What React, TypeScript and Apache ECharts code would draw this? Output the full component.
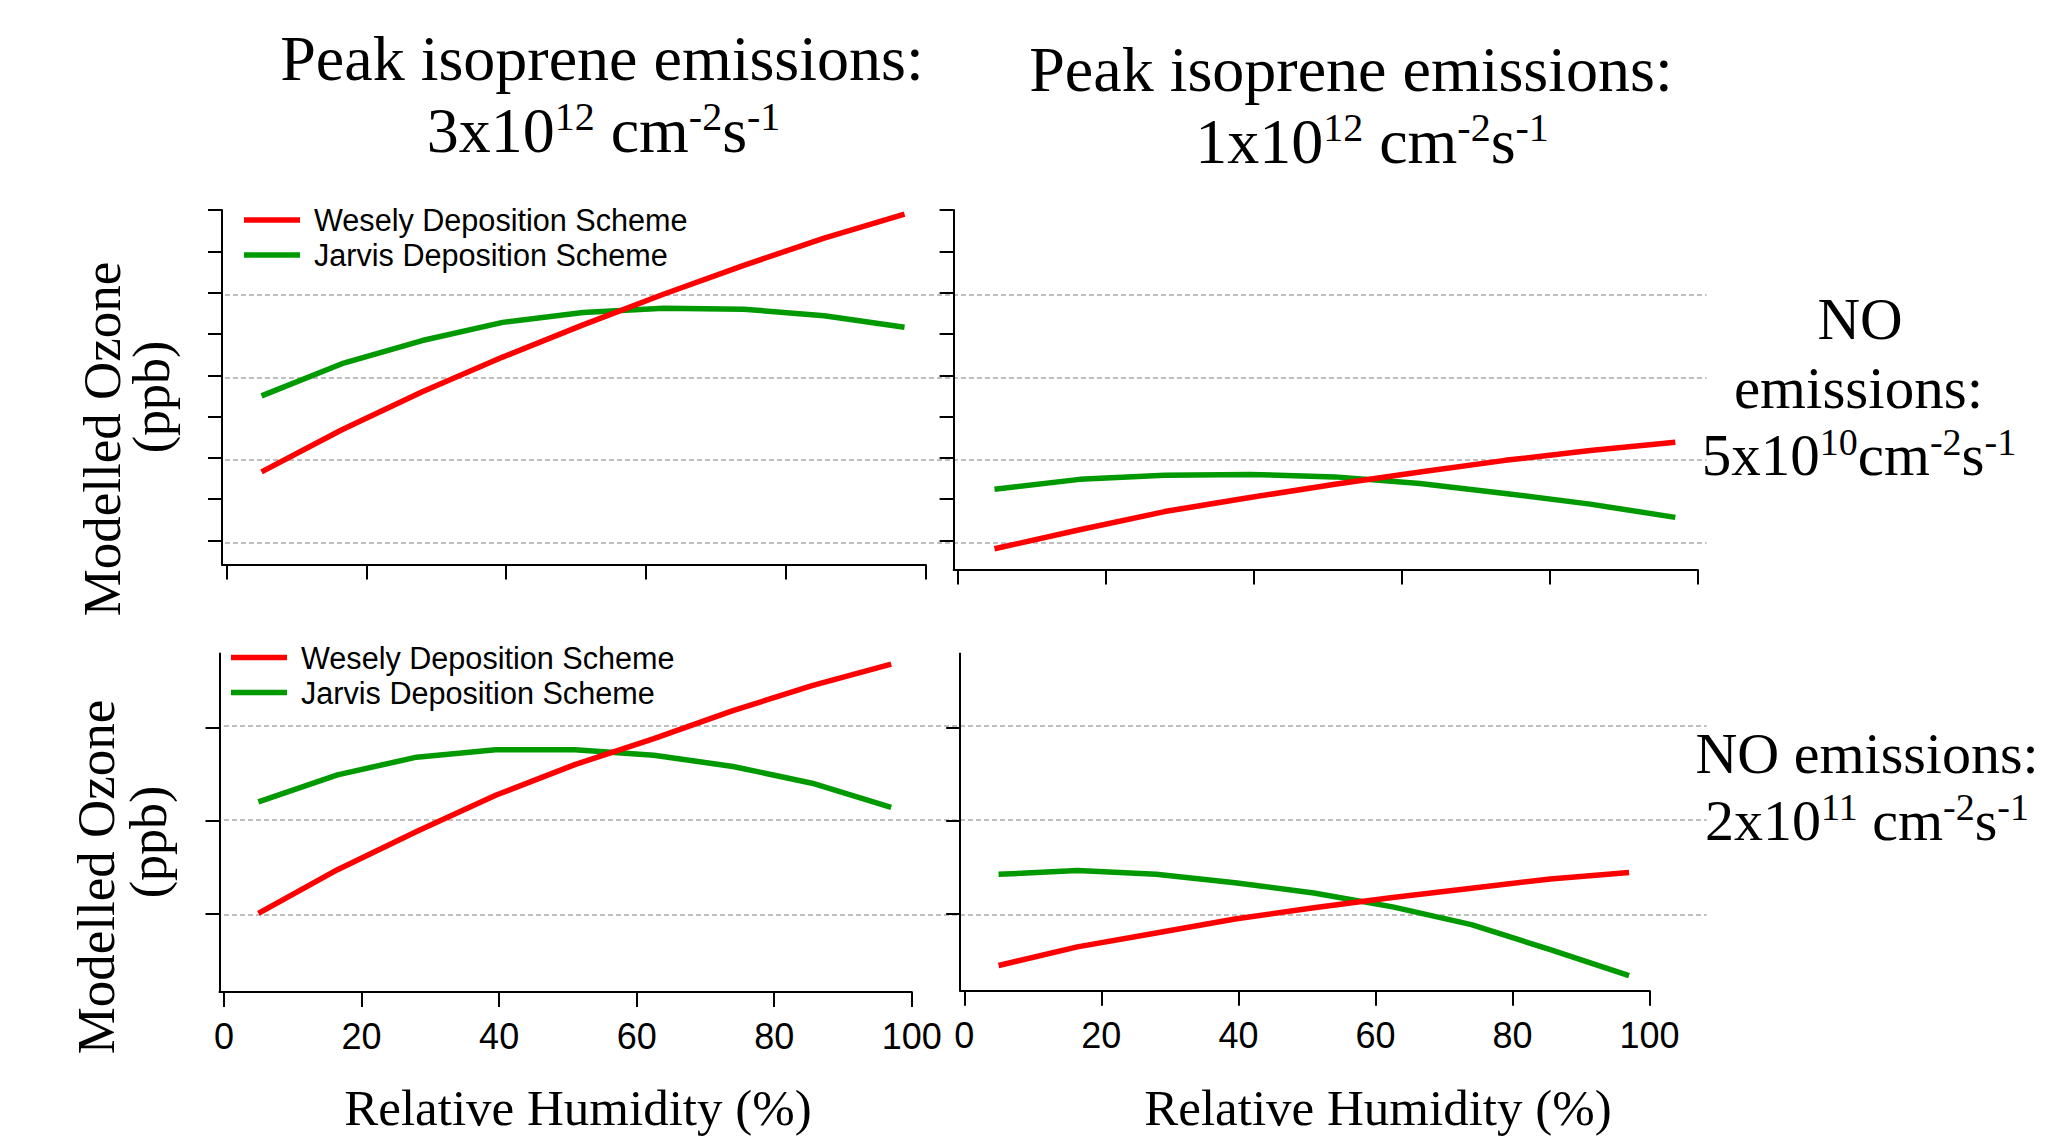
import React, { useEffect, useRef } from 'react';
import * as echarts from 'echarts';

// ---------------- data ----------------
const humidity = [5, 16.5, 28, 39.5, 51, 62.5, 74, 85.5, 97];

// Peak isoprene 3e12, NO 5e10 (top-left)
const weselyHighIsopLowNO = [38.3, 43.4, 48.0, 52.2, 56.1, 59.8, 63.3, 66.6, 69.5];
const jarvisHighIsopLowNO = [47.5, 51.4, 54.2, 56.4, 57.6, 58.1, 58.0, 57.2, 55.8];
// Peak isoprene 1e12, NO 5e10 (top-right)
const weselyLowIsopLowNO = [29.0, 31.3, 33.5, 35.2, 36.8, 38.3, 39.7, 40.9, 41.9];
const jarvisLowIsopLowNO = [36.2, 37.4, 37.9, 38.0, 37.7, 36.9, 35.7, 34.4, 32.8];
// Peak isoprene 3e12, NO 2e11 (bottom-left)
const weselyHighIsopHighNO = [30.0, 34.7, 38.8, 42.7, 46.0, 48.8, 51.8, 54.5, 56.8];
const jarvisHighIsopHighNO = [42.0, 44.9, 46.8, 47.6, 47.6, 47.0, 45.8, 44.0, 41.4];
// Peak isoprene 1e12, NO 2e11 (bottom-right)
const weselyLowIsopHighNO = [24.4, 26.4, 27.9, 29.4, 30.6, 31.7, 32.7, 33.7, 34.4];
const jarvisLowIsopHighNO = [34.2, 34.6, 34.2, 33.3, 32.2, 30.7, 28.8, 26.1, 23.3];

const xRange = [0, 100];
const xTickStep = 20;
const topRowY = [30, 70];
const bottomRowY = [30, 50];
const yTickStep = 10;

const WESELY = 'Wesely Deposition Scheme';
const JARVIS = 'Jarvis Deposition Scheme';

const titleLine1 = 'Peak isoprene emissions:';
const titleLeft2 = '{m|3x10}{s|12}{m| cm}{s|-2}{m|s}{s|-1}';
const titleRight2 = '{m|1x10}{s|12}{m| cm}{s|-2}{m|s}{s|-1}';
const rowTopLines = ['NO', 'emissions:'];
const rowTop3 = '{m|5x10}{s|10}{m|cm}{s|-2}{m|s}{s|-1}';
const rowBottom1 = 'NO emissions:';
const rowBottom2 = '{m|2x10}{s|11}{m| cm}{s|-2}{m|s}{s|-1}';
const yTitle1 = 'Modelled Ozone';
const yTitle2 = '(ppb)';
const xTitle = 'Relative Humidity (%)';

// ---------------- styling / layout ----------------
const SANS = "'Liberation Sans', Arial, Helvetica, sans-serif";
const SERIF = "'Liberation Serif', 'Times New Roman', Times, serif";
const RED = '#ff0000';
const GREEN = '#009900';
const BLACK = '#000000';

const panels = [
  {
    data: { left: 226.6, top: 210, width: 698.9, height: 330.5 },
    frame: { left: 222, top: 210, width: 703.5, height: 354.5 },
    xOffset: 24, yOffset: 4.6, y: topRowY, minor: true, labels: false,
    wesely: weselyHighIsopLowNO, jarvis: jarvisHighIsopLowNO,
  },
  {
    data: { left: 957.5, top: 210, width: 740, height: 330.5 },
    frame: { left: 953.6, top: 210, width: 743.9, height: 359.5 },
    xOffset: 29, yOffset: 3.9, y: topRowY, minor: true, labels: false,
    wesely: weselyLowIsopLowNO, jarvis: jarvisLowIsopLowNO,
  },
  {
    data: { left: 224, top: 727.4, width: 687.8, height: 186 },
    frame: { left: 219.5, top: 653.4, width: 692.3, height: 338.5 },
    xOffset: 78.5, yOffset: 4.5, y: bottomRowY, minor: false, labels: true,
    wesely: weselyHighIsopHighNO, jarvis: jarvisHighIsopHighNO,
  },
  {
    data: { left: 964.3, top: 727.4, width: 685.3, height: 186 },
    frame: { left: 960.2, top: 653.4, width: 689.4, height: 337.4 },
    xOffset: 77.4, yOffset: 4.1, y: bottomRowY, minor: false, labels: true,
    wesely: weselyLowIsopHighNO, jarvis: jarvisLowIsopHighNO,
  },
];

const gridlineRows = [
  { grid: { left: 225, top: 212, width: 1481.6, height: 330.5 }, y: topRowY, showMax: false },
  { grid: { left: 224, top: 725.5, width: 1482.6, height: 189 }, y: bottomRowY, showMax: true },
];

function richStyle(main: number, sup: number, lh: number, supH: number) {
  return {
    m: { fontSize: main, fontFamily: SERIF, lineHeight: lh, fill: BLACK },
    s: { fontSize: sup, fontFamily: SERIF, lineHeight: supH, height: supH, verticalAlign: 'top', fill: BLACK },
  };
}

function buildOption() {
  const tickLine = { color: BLACK, width: 2 };
  const grid: any[] = [];
  const xAxis: any[] = [];
  const yAxis: any[] = [];
  const series: any[] = [];

  panels.forEach((p, i) => {
    grid.push({ ...p.data });
    xAxis.push({
      type: 'value', gridIndex: i, min: xRange[0], max: xRange[1], interval: xTickStep,
      offset: p.xOffset,
      axisLine: { show: false, onZero: false },
      axisTick: { show: true, length: 15, lineStyle: tickLine },
      axisLabel: { show: p.labels, fontSize: 36, fontFamily: SANS, color: BLACK, margin: 27 },
      splitLine: { show: false },
    });
    yAxis.push({
      type: 'value', gridIndex: i, min: p.y[0], max: p.y[1], interval: yTickStep,
      offset: p.yOffset,
      axisLine: { show: false, onZero: false },
      axisTick: { show: true, length: 14, lineStyle: tickLine },
      minorTick: { show: p.minor, splitNumber: 2, length: 14, lineStyle: tickLine },
      axisLabel: { show: false },
      splitLine: { show: false },
      minorSplitLine: { show: false },
    });
    series.push({
      type: 'line', name: JARVIS, xAxisIndex: i, yAxisIndex: i, color: GREEN,
      data: humidity.map((h, k) => [h, p.jarvis[k]]),
      symbol: 'none', clip: false, smooth: false,
      lineStyle: { color: GREEN, width: 5.5 },
    });
    series.push({
      type: 'line', name: WESELY, xAxisIndex: i, yAxisIndex: i, color: RED,
      data: humidity.map((h, k) => [h, p.wesely[k]]),
      symbol: 'none', clip: false, smooth: false,
      lineStyle: { color: RED, width: 5.5 },
    });
  });

  // frames (L-shaped axis lines)
  panels.forEach((p, i) => {
    const gi = panels.length + i;
    grid.push({ ...p.frame });
    xAxis.push({
      type: 'value', gridIndex: gi, min: 0, max: 1,
      axisLine: { show: true, onZero: false, lineStyle: { color: BLACK, width: 2 } },
      axisTick: { show: false }, axisLabel: { show: false }, splitLine: { show: false },
    });
    yAxis.push({
      type: 'value', gridIndex: gi, min: 0, max: 1,
      axisLine: { show: true, onZero: false, lineStyle: { color: BLACK, width: 2 } },
      axisTick: { show: false }, axisLabel: { show: false }, splitLine: { show: false },
    });
  });

  // dotted reference lines spanning both panels of a row
  gridlineRows.forEach((r, j) => {
    const gi = panels.length * 2 + j;
    grid.push({ ...r.grid });
    xAxis.push({
      type: 'value', gridIndex: gi, min: 0, max: 1,
      axisLine: { show: false }, axisTick: { show: false }, axisLabel: { show: false }, splitLine: { show: false },
    });
    yAxis.push({
      type: 'value', gridIndex: gi, min: r.y[0], max: r.y[1], interval: yTickStep,
      axisLine: { show: false }, axisTick: { show: false }, axisLabel: { show: false },
      splitLine: {
        show: true, showMinLine: true, showMaxLine: r.showMax,
        lineStyle: { color: '#ababab', width: 1.7, type: [5, 3] },
      },
    });
  });

  const legendBase = {
    orient: 'vertical', padding: 0, itemGap: 4, itemWidth: 56, itemHeight: 5.5,
    icon: 'rect', selectedMode: false, data: [WESELY, JARVIS],
    itemStyle: { borderWidth: 0 },
    textStyle: { fontSize: 30.6, fontFamily: SANS, color: BLACK, padding: [0, 0, 0, 9] },
  };

  const plain = (text: string, x: number, y: number, size: number, rotation = 0) => ({
    type: 'text', x, y, rotation,
    style: { text, fontSize: size, fontFamily: SERIF, fill: BLACK, align: 'center', verticalAlign: 'middle' },
  });
  const rich = (text: string, x: number, y: number, st: any) => ({
    type: 'text', x, y,
    style: { text, rich: st, fill: BLACK, align: 'center', verticalAlign: 'middle', fontFamily: SERIF },
  });

  const graphic = [
    plain(titleLine1, 602, 58.8, 64),
    rich(titleLeft2, 603.5, 130.7, richStyle(64, 40, 72, 44)),
    plain(titleLine1, 1351, 69.1, 64),
    rich(titleRight2, 1372, 141, richStyle(64, 40, 72, 44)),
    plain(rowTopLines[0], 1860, 319, 59),
    plain(rowTopLines[1], 1858.5, 387.7, 59),
    rich(rowTop3, 1859, 454.7, richStyle(59, 38, 66, 40)),
    plain(rowBottom1, 1867, 753.4, 58),
    rich(rowBottom2, 1867, 820.4, richStyle(58, 38, 66, 40)),
    plain(yTitle1, 102, 439, 53, Math.PI / 2),
    plain(yTitle2, 151, 397, 52, Math.PI / 2),
    plain(yTitle1, 96, 877, 53, Math.PI / 2),
    plain(yTitle2, 148, 842, 52, Math.PI / 2),
    plain(xTitle, 578, 1107.8, 51),
    plain(xTitle, 1378, 1107.8, 51),
  ];

  return {
    animation: false,
    backgroundColor: '#ffffff',
    grid,
    xAxis,
    yAxis,
    series,
    legend: [
      { ...legendBase, left: 244, top: 204.5 },
      { ...legendBase, left: 231, top: 642 },
    ],
    graphic,
  };
}

export default function App() {
  const ref = useRef<HTMLDivElement>(null);
  useEffect(() => {
    if (!ref.current) return;
    const chart = echarts.init(ref.current, null, { renderer: 'svg' });
    chart.setOption(buildOption() as any);
    return () => chart.dispose();
  }, []);
  return (
    <div
      ref={ref}
      style={{ position: 'absolute', left: 0, top: 0, width: 2048, height: 1140, background: '#ffffff' }}
    />
  );
}
